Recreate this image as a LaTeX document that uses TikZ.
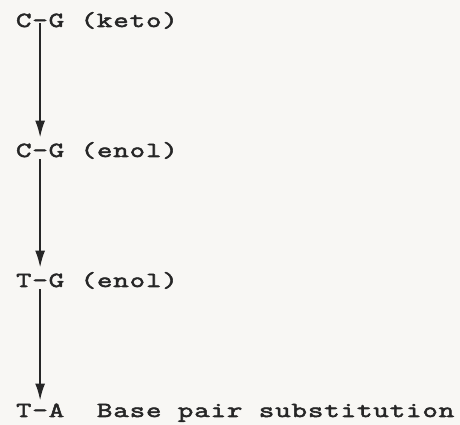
\documentclass[tikz,border=0pt]{standalone}
\usepackage{fontspec}
\newfontfamily\typewriter{Latin Modern Mono}[FakeStretch=1.4, FakeBold=2.5, LetterSpace=4]
\usetikzlibrary{arrows.meta}
\definecolor{ink}{HTML}{262626}
\definecolor{paper}{HTML}{F8F7F4}
\begin{document}
\begin{tikzpicture}[x=1pt,y=1pt,
  txt/.style={inner sep=0pt, outer sep=0pt, anchor=base west, text=ink,
    font={\fontsize{21.5}{24}\typewriter}},
  arr/.style={draw=ink, line width=2pt,
    -{Latex[length=17pt,width=10pt]}}]
  % page
  \fill[paper] (0,0) rectangle (460,425);
  \useasboundingbox (0,0) rectangle (460,425);

  % base pairs, one row each
  \node[txt] (p1) at (16,398) {C-G};
  \node[txt] (p2) at (16,268) {C-G};
  \node[txt] (p3) at (16,138) {T-G};
  \node[txt] (p4) at (16,8)   {T-A};

  % tautomer labels and result
  \node[txt] (l1) at (p1.base east) {\ (keto)};
  \node[txt] (l2) at (p2.base east) {\ (enol)};
  \node[txt] (l3) at (p3.base east) {\ (enol)};
  \node[txt] (l4) at (p4.base east) {\ \ Base pair substitution};

  % steps of the mispairing pathway
  \draw[arr] ([yshift=4pt]p1.south) -- ([yshift=6pt]p2.north);
  \draw[arr] ([yshift=-2pt]p2.south) -- ([yshift=6pt]p3.north);
  \draw[arr] ([yshift=-2pt]p3.south) -- ([yshift=3pt]p4.north);
\end{tikzpicture}
\end{document}
